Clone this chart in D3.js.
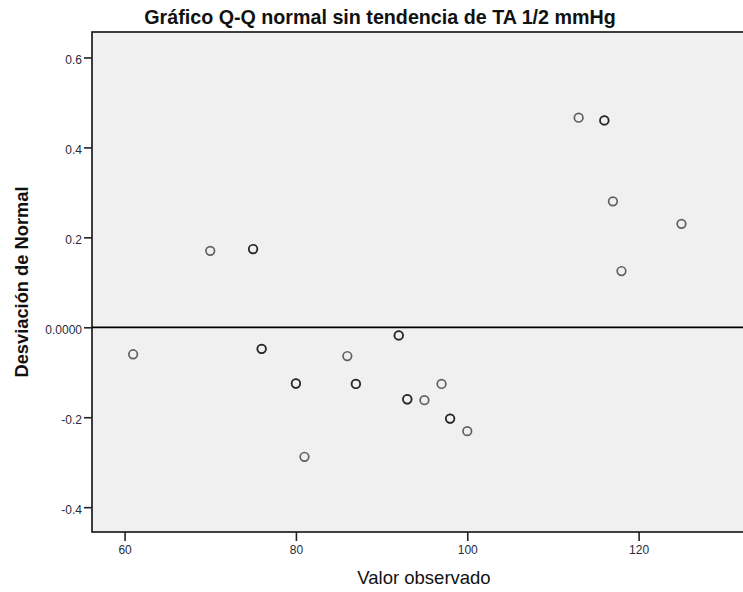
<!DOCTYPE html>
<html>

<head>
    <title>Q-Q normal sin tendencia</title>
    <script src="https://d3js.org/d3.v7.min.js"></script>
    <style>
        body { margin: 0; background: white; }
        text { font-family: "Liberation Sans", Arial, sans-serif; }
    </style>
</head>

<body>
    <div id="chart"></div>
    <script>

        var observedValues = [61, 70, 75, 75, 76, 76, 80, 80, 81, 86, 87, 87, 92, 92, 93, 93, 95, 97, 98, 98, 100, 113, 116, 116, 117, 118, 125]
        var normalDeviation = [-0.060, 0.170, 0.174, 0.174, -0.048, -0.048, -0.125, -0.125, -0.288, -0.064, -0.126, -0.126, -0.018, -0.018, -0.160, -0.160, -0.162, -0.126, -0.203, -0.203, -0.231, 0.466, 0.460, 0.460, 0.280, 0.125, 0.230]
        var xTickValues = [60, 80, 100, 120]
        var yTickValues = [0.6, 0.4, 0.2, 0, -0.2, -0.4]
        var yTickLabels = ['0.6', '0.4', '0.2', '0.0000', '-0.2', '-0.4']

        // GENERAL SETUP

        var width = 743;
        var height = 592;
        var plotLeft = 92, plotRight = 756, plotTop = 32, plotBottom = 532;

        var svg = d3.select('#chart').append('svg')
            .attr('width', width)
            .attr('height', height);

        var x = d3.scaleLinear().domain([56.2, 133.7]).range([plotLeft, plotRight]);
        var y = d3.scaleLinear().domain([-0.4552, 0.6566]).range([plotBottom, plotTop]);

        // PLOT FRAME
        svg.append('rect')
            .attr('x', plotLeft)
            .attr('y', plotTop)
            .attr('width', plotRight - plotLeft)
            .attr('height', plotBottom - plotTop)
            .style('fill', '#f0f0f0')
            .style('stroke', '#111')
            .style('stroke-width', 1.6);

        // AXES
        var xAxis = svg.append('g')
            .attr('transform', 'translate(0,' + plotBottom + ')')
            .call(d3.axisBottom(x).tickValues(xTickValues).tickSize(9).tickPadding(4).tickSizeOuter(0));
        xAxis.select('.domain').remove();

        var yAxis = svg.append('g')
            .attr('transform', 'translate(' + plotLeft + ',0)')
            .call(d3.axisLeft(y).tickValues(yTickValues).tickSize(8).tickPadding(2)
                .tickFormat(function (d, i) { return yTickLabels[i] }));
        yAxis.select('.domain').remove();

        svg.selectAll('.tick line').style('stroke', '#222').style('stroke-width', 1.6);
        svg.selectAll('.tick text')
            .style('font-size', '12px')
            .style('fill', '#2a2a3a');
        yAxis.selectAll('.tick text').attr('dy', '0.5em');

        // ZERO REFERENCE LINE
        svg.append('line')
            .attr('x1', plotLeft)
            .attr('x2', plotRight)
            .attr('y1', y(0))
            .attr('y2', y(0))
            .style('stroke', '#000')
            .style('stroke-width', 1.8);

        // POINTS
        svg.selectAll('circle.pt')
            .data(observedValues)
            .enter()
            .append('circle')
            .attr('class', 'pt')
            .attr('cx', function (d) { return x(d) })
            .attr('cy', function (d, i) { return y(normalDeviation[i]) })
            .attr('r', 4.3)
            .style('fill', 'none')
            .style('stroke', 'rgba(0,0,0,0.6)')
            .style('stroke-width', 1.7);

        // TITLES
        svg.append('text')
            .attr('x', 380)
            .attr('y', 24)
            .attr('text-anchor', 'middle')
            .style('font-size', '19.7px')
            .style('font-weight', 'bold')
            .style('fill', '#111')
            .text('Gráfico Q-Q normal sin tendencia de TA 1/2 mmHg');

        svg.append('text')
            .attr('x', 424)
            .attr('y', 584)
            .attr('text-anchor', 'middle')
            .style('font-size', '18.5px')
            .style('fill', '#111')
            .text('Valor observado');

        svg.append('text')
            .attr('transform', 'translate(28,282) rotate(-90)')
            .attr('text-anchor', 'middle')
            .style('font-size', '18.3px')
            .style('font-weight', 'bold')
            .style('fill', '#111')
            .text('Desviación de Normal');
    </script>
</body>

</html>
